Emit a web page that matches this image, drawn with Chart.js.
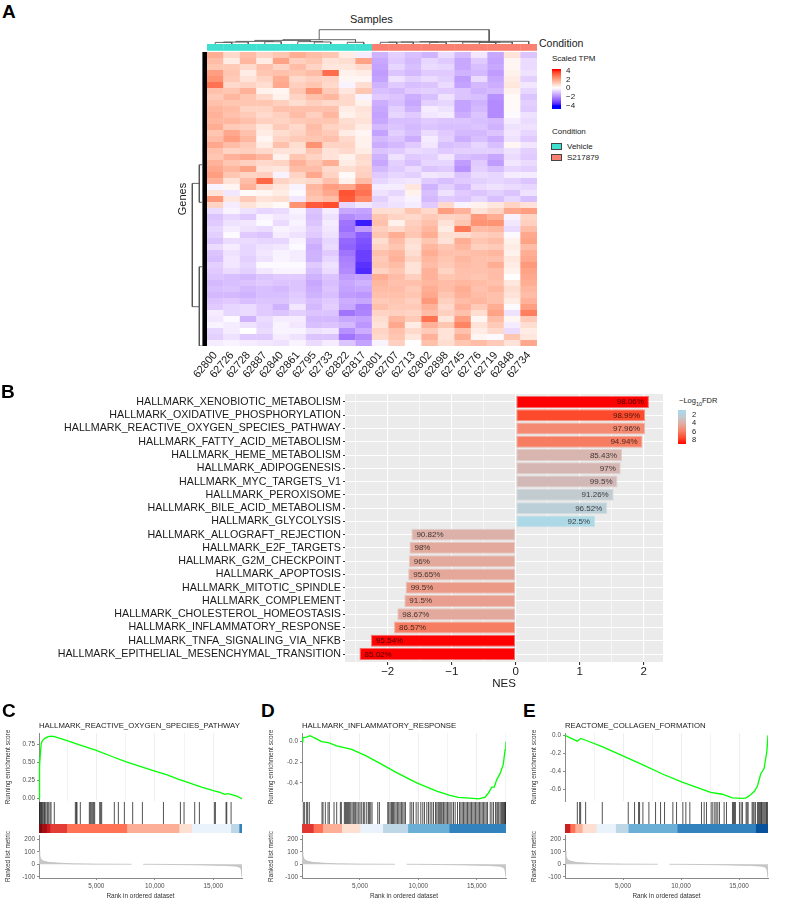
<!DOCTYPE html>
<html><head><meta charset="utf-8">
<style>
html,body{margin:0;padding:0;background:#fff;width:787px;height:906px;overflow:hidden}
#page{position:relative;width:787px;height:906px;overflow:hidden;font-family:"Liberation Sans",Arial,sans-serif}
canvas{position:absolute;display:block}
.t{position:absolute;white-space:nowrap;line-height:normal;color:#1a1a1a;opacity:0.999}
.sw{position:absolute;box-sizing:border-box;border:1px solid #444}
</style>
<script src="https://cdn.jsdelivr.net/npm/chart.js@4"></script>
</head><body><div id="page"></div>
<script>
/* ---------- data ---------- */
const sampleIds=['62800','62726','62728','62887','62840','62861','62795','62733','62822','62817','62801','62707','62713','62802','62898','62745','62776','62719','62848','62734'];
const conditionNames=['Vehicle','S217879'];
// scaled TPM x10, one row per horizontal band of the heat map, one value per sample
const heatRows=[
[17,8,14,9,12,17,14,12,4,-3,-13,-8,-11,-13,-6,-12,-4,-15,6,-10],
[14,4,15,4,19,10,12,6,7,19,-15,-9,-12,-7,-9,-15,-9,-16,2,-6],
[12,11,8,13,9,14,9,5,5,8,-16,-7,-11,-6,-7,-15,-11,-15,2,-6],
[20,12,4,12,13,12,14,29,3,4,-17,-10,-12,-9,-9,-13,-12,-17,3,-5],
[22,11,6,9,17,8,10,9,2,2,-16,-5,-8,-6,-8,-17,-6,-15,4,-8],
[28,8,9,7,18,10,12,8,-2,7,-13,-9,-11,-10,-6,-16,-12,-14,5,-4],
[13,12,16,3,2,12,22,11,5,12,-11,-12,-9,-8,-9,-10,-13,-12,3,-7],
[11,15,12,8,3,9,13,15,8,-2,-9,-10,-14,-11,-5,-10,-11,-19,1,-10],
[13,12,12,12,10,7,10,8,8,3,-14,-11,-15,-8,-7,-16,-13,-20,1,-8],
[15,14,9,9,13,13,13,13,4,6,-15,-8,-13,-3,-5,-16,-12,-20,1,-9],
[16,13,11,8,10,14,10,15,3,5,-16,-7,-9,-4,-3,-14,-10,-20,-1,-5],
[15,15,13,10,9,11,12,12,7,6,-15,-11,-11,-9,-10,-10,-11,-12,-3,-6],
[17,11,10,5,11,8,14,9,8,4,-12,-10,-12,-10,-11,-11,-10,-13,-5,-5],
[12,18,13,4,7,9,13,11,4,2,-16,-8,-11,-6,-9,-12,-12,-10,-4,-7],
[14,20,15,2,9,11,12,13,8,3,-12,-10,-14,-3,-8,-14,-11,-14,-5,-9],
[18,14,11,4,13,7,22,9,9,3,-14,-12,-9,-4,-11,-10,-7,-11,2,-4],
[13,9,10,8,6,6,12,6,8,4,-10,-9,-6,-7,-9,-8,-8,-8,-5,-8],
[12,16,18,15,3,12,9,6,3,8,-13,-5,-9,-8,-4,-11,-12,-15,-6,-9],
[16,12,10,8,9,16,12,17,4,7,-15,-8,-11,-7,-7,-17,-9,-17,-4,-6],
[18,15,19,6,5,14,14,8,7,9,-12,-9,-6,-10,-9,-19,-8,-11,-7,-8],
[20,12,9,10,-2,9,18,9,1,10,-9,-7,-8,-4,-5,-10,-6,-7,-3,-3],
[16,6,14,30,9,7,8,13,3,14,-7,-5,-4,-9,-11,-9,-8,-7,-8,-10],
[-2,2,16,8,5,-2,15,20,18,26,-3,-3,5,-13,-8,-12,-6,-5,-6,-7],
[6,-4,1,2,4,-1,14,18,33,28,-5,-7,3,-11,-5,-9,-10,-8,-10,-5],
[21,5,11,6,7,-4,12,14,32,24,-8,-4,-2,-12,-9,-10,-7,-11,-7,-11],
[9,-3,6,3,1,22,32,34,-7,-4,-6,-5,-3,-9,8,-2,3,5,9,6],
[-6,-2,-5,-7,-6,-2,-10,-3,-15,-16,7,7,12,8,20,16,6,9,18,20],
[-10,-7,-9,-2,-4,-3,-11,-5,-20,-18,12,9,8,11,9,10,21,17,-2,9],
[-9,-5,-4,-1,-6,-2,-10,-3,-24,-38,13,3,10,13,6,12,22,22,-4,10],
[-7,-3,-5,-6,-2,-3,-8,-4,-25,-17,10,8,11,15,4,27,14,15,-6,14],
[-8,-1,-9,-10,-3,-5,-9,-5,-22,-28,12,17,12,17,7,7,10,11,-1,18],
[-10,-6,-6,-7,-7,-2,-12,-7,-26,-30,7,14,7,12,6,17,12,14,3,19],
[-6,-3,-7,-5,-4,-1,-14,-6,-27,-31,9,12,6,15,12,15,10,11,4,14],
[-10,-5,-7,-4,-2,-3,-13,-9,-24,-33,13,15,7,17,13,13,14,15,3,17],
[-11,-4,-8,-5,-2,-3,-13,-7,-22,-33,11,16,9,15,12,15,13,13,5,18],
[-8,-4,-7,-1,-1,-1,-9,-5,-21,-35,12,14,6,14,11,14,13,17,4,21],
[-9,-6,-8,-4,-2,-2,-11,-6,-20,-36,9,12,6,16,9,13,13,14,3,19],
[-10,-11,-12,-10,-9,-9,-13,-10,-17,-16,17,14,10,16,12,13,12,14,0,18],
[-12,-11,-10,-9,-10,-10,-15,-11,-15,-13,15,13,13,15,14,15,14,13,5,17],
[-11,-10,-12,-11,-12,-10,-14,-10,-16,-15,14,14,11,17,14,17,13,15,7,15],
[-12,-12,-13,-11,-11,-9,-13,-11,-17,-18,13,13,12,18,12,16,14,13,6,14],
[-10,-9,-11,-10,-10,-8,-11,-9,-14,-15,11,12,10,21,10,14,15,13,4,16],
[-9,-7,-6,-9,-13,-4,-12,-8,-15,-22,13,11,11,16,8,16,11,17,-1,20],
[-3,-7,-6,-9,-10,-8,-10,-10,-24,-21,9,10,9,14,10,13,7,19,-5,26],
[-4,-1,-13,-6,-3,-3,-12,-12,-15,-16,7,15,11,28,5,20,2,14,2,11],
[-2,-3,-5,-7,-2,-4,-11,-10,-12,-18,6,18,4,16,12,25,6,11,-3,7],
[-7,-3,0,-6,-2,-2,-5,-4,-19,-14,9,13,8,11,6,13,4,8,-6,4],
[-8,-5,-9,-9,-3,-5,-10,-10,-24,-20,8,12,5,16,6,17,2,-1,12,5],
[-3,-2,-3,-4,-5,-2,-6,-3,-10,-16,-2,10,0,13,7,12,14,11,6,18]
];
// dendrogram brackets: [low position, high position, merge height, low child height, high child height]
const sampleTree=[[0.5,1.5,1.6,0,0],[1,2.5,1.9,1.6,0],[3.5,4.5,2.3,0,0],[1.75,4,2.6,1.9,2.3],[6.5,7.5,2,0,0],[5.5,7,2.4,0,2],[2.9,6.25,3.6,2.6,2.4],[8.5,9.5,1.7,0,0],[4.6,9,4.3,3.6,1.7],
[10.5,11.5,1.7,0,0],[11,12.5,1.9,1.7,0],[13.5,14.5,1.7,0,0],[11.75,14,2,1.9,1.7],[16.5,17.5,1.6,0,0],[17,18.5,1.8,1.6,0],[15.5,17.75,2,0,1.8],[12.9,16.6,2.3,2,2],[14.75,19.5,2.7,2.3,0],[6.8,17.1,14.3,4.3,2.7]];
const geneTree=[[21.9,42.45,14.7,7.7,7.7],[18.8,25.05,7.7,5,5],[35.8,49,7.7,5,5]];

const pathways=['HALLMARK_XENOBIOTIC_METABOLISM','HALLMARK_OXIDATIVE_PHOSPHORYLATION','HALLMARK_REACTIVE_OXYGEN_SPECIES_PATHWAY','HALLMARK_FATTY_ACID_METABOLISM','HALLMARK_HEME_METABOLISM','HALLMARK_ADIPOGENESIS','HALLMARK_MYC_TARGETS_V1','HALLMARK_PEROXISOME','HALLMARK_BILE_ACID_METABOLISM','HALLMARK_GLYCOLYSIS','HALLMARK_ALLOGRAFT_REJECTION','HALLMARK_E2F_TARGETS','HALLMARK_G2M_CHECKPOINT','HALLMARK_APOPTOSIS','HALLMARK_MITOTIC_SPINDLE','HALLMARK_COMPLEMENT','HALLMARK_CHOLESTEROL_HOMEOSTASIS','HALLMARK_INFLAMMATORY_RESPONSE','HALLMARK_TNFA_SIGNALING_VIA_NFKB','HALLMARK_EPITHELIAL_MESENCHYMAL_TRANSITION'];
const nesValues=[2.08,2.02,2.02,1.98,1.66,1.64,1.59,1.53,1.43,1.24,-1.63,-1.66,-1.67,-1.68,-1.72,-1.74,-1.85,-1.9,-2.26,-2.44];
const fdrValues=[9,7.5,5.5,6,3.6,3.5,3.3,2.4,2,1.2,3.8,4.2,4.2,4.3,4.8,4.6,4.2,6,9,9];
const percentLabels=['98.06%','98.99%','97.96%','94.94%','85.43%','97%','99.5%','91.26%','96.52%','92.5%','90.82%','98%','96%','95.65%','99.5%','91.5%','98.67%','86.57%','95.54%','85.02%'];

const rosCurve=[[103,0],[130,0.15],[170,0.45],[230,0.65],[300,0.76],[400,0.8],[600,0.83],[900,0.855],[1200,0.86],[1500,0.85],[2500,0.8],[3500,0.745],[5000,0.665],[6500,0.57],[7500,0.51],[9000,0.43],[10000,0.38],[11000,0.33],[12000,0.27],[13000,0.215],[14000,0.16],[15000,0.11],[15500,0.09],[16000,0.06],[16200,0.07],[16500,0.06],[17000,0.035],[17453,0]];
const infCurve=[[30,0],[100,0.04],[430,0.045],[710,0.058],[1140,0.035],[1710,0],[2290,-0.01],[3000,-0.04],[4290,-0.075],[5570,-0.14],[6710,-0.21],[8140,-0.3],[9860,-0.4],[11570,-0.48],[12710,-0.52],[13430,-0.54],[14710,-0.55],[15140,-0.555],[15700,-0.54],[16000,-0.5],[16290,-0.44],[16510,-0.44],[16710,-0.37],[17000,-0.31],[17280,-0.22],[17430,-0.08],[17505,0]];
const colCurve=[[0,0],[630,-0.04],[1060,-0.065],[1350,-0.035],[1780,-0.055],[3200,-0.125],[4940,-0.225],[6670,-0.325],[8400,-0.43],[10100,-0.52],[11840,-0.6],[12560,-0.635],[13560,-0.655],[14430,-0.695],[15290,-0.7],[15630,-0.695],[16000,-0.66],[16350,-0.62],[16600,-0.56],[16870,-0.43],[17160,-0.37],[17400,-0.18],[17500,0]];
const rosHits=[130,160,215,275,330,390,470,560,615,700,815,900,1040,1130,1410,3210,3295,3350,3635,4405,4490,4575,4690,4775,4860,5290,5375,5460,6540,6885,7400,8110,8940,10740,12190,12500,13410,13810,15090,15180,16090,16150,16520];
const infHits=[143,257,429,515,658,1745,1830,2030,2259,2374,2774,3003,3318,3403,3661,3747,3832,3918,4004,4090,4204,4319,4433,4547,4633,4748,4891,5005,5148,5291,5405,5577,5720,5806,5920,6035,6521,6664,7379,7465,7579,7693,7779,7865,7979,8094,8208,8323,8437,8551,8666,8780,8895,9295,9438,9581,9810,9981,10210,10382,10525,10725,10868,11011,11154,11297,11469,11583,11697,11783,11869,11955,12041,12155,12269,12384,12498,12613,12727,12870,13013,13156,13356,13528,13642,13757,13871,13985,14100,14214,14328,14443,14557,14672,14786,14901,15015,15129,15244,15358,15473,15587,15701,15816,15930,16159,16302,16445,16617,16731,16817,16903,17017,17131,17217,17303,17389,17446,17475];
const colHits=[1062,1263,1349,1779,3214,5453,5998,6343,6429,6716,7232,7806,8237,8581,9299,9615,10160,10418,10763,11767,11997,12198,12599,12743,12915,13030,13173,13317,13719,13920,14436,14522,14608,14694,15039,15182,15297,15613,15699,15785,16129,16216,16302,16416,16589,16675,16761,16847,16933,16990,17077,17163,17249,17335,17392,17450];
const rosStripEnds=[330,760,1040,2470,7600,12070,13150,16490,17200,17453];
const rosStripColors=['#7F0A0F','#A50F15','#CB181D','#E33B36','#FF7256','#FCAE97','#FEE0D2','#EAF2FB','#BDD7E7','#3182BD'];
const infStripEnds=[1000,1800,3430,5000,6950,9095,12640,17511];
const infStripColors=['#E03530','#FF7256','#FCAE97','#FEE0D2','#EAF2FB','#BDD7E7','#6BAED6','#3182BD'];
const colStripEnds=[430,860,1490,2700,4360,5450,9670,16420,17500];
const colStripColors=['#CB2020','#FF7256','#FCAE97','#FEE0D2','#EAF2FB','#BDD7E7','#6BAED6','#3182BD','#08519C'];
const rosMetric=[[103,105],[160,70],[250,45],[400,30],[600,22],[1000,15],[2000,8],[3000,4],[5000,1.5],[7500,0.3],[8000,0],[8400,null],[9000,0],[10000,-0.5],[12000,-2],[14000,-5],[16000,-9],[17000,-15],[17300,-25],[17400,-45],[17453,-105]];
const infMetric=[[30,105],[90,70],[200,45],[350,30],[600,22],[1000,15],[2000,8],[3000,4],[5000,1.5],[7500,0.3],[8000,0],[8400,null],[9000,0],[10000,-0.5],[12000,-2],[14000,-5],[16000,-9],[17000,-15],[17300,-25],[17430,-45],[17511,-105]];
const colMetric=[[0,105],[70,70],[180,45],[330,30],[600,22],[1000,15],[2000,8],[3000,4],[5000,1.5],[7500,0.3],[8000,0],[8400,null],[9000,0],[10000,-0.5],[12000,-2],[14000,-5],[16000,-9],[17000,-15],[17300,-25],[17420,-45],[17500,-105]];

/* ---------- helpers ---------- */
const FONT='"Liberation Sans",Arial,sans-serif';
Chart.defaults.font.family=FONT;
Chart.defaults.animation=false;
Chart.defaults.responsive=false;
Chart.defaults.maintainAspectRatio=false;
Chart.defaults.devicePixelRatio=1;
Chart.defaults.plugins.legend.display=false;
Chart.defaults.plugins.tooltip.enabled=false;
const page=document.getElementById('page');
function mk(l,t,w,h,cfg){
  const c=document.createElement('canvas');c.width=w;c.height=h;
  c.style.left=l+'px';c.style.top=t+'px';c.style.width=w+'px';c.style.height=h+'px';
  page.appendChild(c);
  cfg.options=cfg.options||{};
  cfg.options.layout=Object.assign({autoPadding:false,padding:0},cfg.options.layout||{});
  return new Chart(c,cfg);
}
function fit(size){return s=>{if(s.isHorizontal())s.height=size;else s.width=size;s.paddingLeft=s.paddingRight=s.paddingTop=s.paddingBottom=0;};}
function only(list){return s=>{s.ticks=list.map(v=>({value:v}));};}
function text(str,x,base,size,opt){
  opt=opt||{};
  const d=document.createElement('div');d.className='t';d.innerHTML=str;
  d.style.fontSize=size+'px';
  d.style.left=x+'px';d.style.top=(base-size*0.905)+'px';
  if(opt.weight)d.style.fontWeight=opt.weight;
  if(opt.color)d.style.color=opt.color;
  if(opt.rot){d.style.transform='translate(-50%,0) rotate(-90deg)';}
  page.appendChild(d);return d;
}
// colour ramp of the heat map: blue - white - red, mixed in Lab
function toLab(rgb){
  let c=rgb.map(v=>{v/=255;return v>0.04045?Math.pow((v+0.055)/1.055,2.4):v/12.92;});
  let X=(0.4124*c[0]+0.3576*c[1]+0.1805*c[2])/0.95047,Y=0.2126*c[0]+0.7152*c[1]+0.0722*c[2],Z=(0.0193*c[0]+0.1192*c[1]+0.9505*c[2])/1.08883;
  const f=t=>t>0.008856?Math.cbrt(t):7.787*t+16/116;
  return [116*f(Y)-16,500*(f(X)-f(Y)),200*(f(Y)-f(Z))];
}
function fromLab(L){
  const y=(L[0]+16)/116,x=L[1]/500+y,z=y-L[2]/200;
  const g=t=>t*t*t>0.008856?t*t*t:(t-16/116)/7.787;
  const X=g(x)*0.95047,Y=g(y),Z=g(z)*1.08883;
  const r=[3.2406*X-1.5372*Y-0.4986*Z,-0.9689*X+1.8758*Y+0.0415*Z,0.0557*X-0.204*Y+1.057*Z];
  return 'rgb('+r.map(v=>{v=Math.max(0,Math.min(1,v));v=v>0.0031308?1.055*Math.pow(v,1/2.4)-0.055:12.92*v;return Math.round(v*255);}).join(',')+')';
}
const labW=toLab([255,255,255]),labR=toLab([255,0,0]),labB=toLab([0,0,255]);
function heatColor(v){const t=Math.min(1,Math.abs(v)/4),e=v>=0?labR:labB;return fromLab(labW.map((w,i)=>w+(e[i]-w)*t));}
// colour ramp of the bar chart: -log10 FDR
const fdrStops=[[1.2,[173,216,230]],[2,[187,207,216]],[2.4,[194,203,208]],[3.3,[210,185,183]],[3.6,[216,181,175]],[4.2,[226,169,156]],[4.8,[235,154,136]],[5.5,[244,138,114]],[6,[246,124,98]],[7.5,[254,74,44]],[9,[255,0,0]]];
function fdrColor(v){
  let a=fdrStops[0],b=fdrStops[fdrStops.length-1];
  if(v<=a[0])return 'rgb('+a[1].join(',')+')';
  for(let i=1;i<fdrStops.length;i++){if(v<=fdrStops[i][0]){a=fdrStops[i-1];b=fdrStops[i];break;}}
  const t=(v-a[0])/(b[0]-a[0]||1);
  return 'rgb('+a[1].map((c,i)=>Math.round(c+(b[1][i]-c)*t)).join(',')+')';
}
function treePoints(tree,vertical){
  const pts=[];
  tree.forEach(b=>{
    const seq=[[b[0],b[3]],[b[0],b[2]],[b[1],b[2]],[b[1],b[4]]];
    seq.forEach(p=>pts.push(vertical?{x:p[1],y:p[0]}:{x:p[0],y:p[1]}));
    pts.push({x:NaN,y:NaN});
  });
  return pts;
}

/* ---------- A: heat map ---------- */
const UNIT_TOP=-1.3333;
const heatDatasets=heatRows.map((row,r)=>({
  data:row.map(()=>[r,r+1]),
  backgroundColor:row.map(v=>heatColor(v/10)),
  barPercentage:1.02,categoryPercentage:1,grouped:false,borderWidth:0
}));
heatDatasets.push({
  data:sampleIds.map(()=>[UNIT_TOP,-0.2]),
  backgroundColor:sampleIds.map((s,i)=>i<10?'#40E0D0':'#FA8072'),
  barPercentage:1.02,categoryPercentage:1,grouped:false,borderWidth:0
});
mk(167,44,370,342,{type:'bar',data:{labels:sampleIds,datasets:heatDatasets},options:{
  layout:{padding:{left:40}},
  scales:{
    x:{afterFit:fit(40),grid:{display:false},border:{display:false},
       ticks:{autoSkip:false,minRotation:50,maxRotation:50,padding:-5,color:'#1a1a1a',font:{size:11}}},
    y:{display:false,reverse:true,min:UNIT_TOP,max:heatRows.length}
  }}});
// sample dendrogram
mk(207,25,330,19,{type:'scatter',data:{datasets:[{data:treePoints(sampleTree,false),showLine:true,spanGaps:false,pointRadius:0,borderColor:'#555',borderWidth:0.9,clip:false}]},
  options:{scales:{x:{display:false,type:'linear',min:0,max:20},y:{display:false,min:0,max:19}}}});
// gene dendrogram and leaf strip
mk(190,52,17,294,{type:'scatter',data:{datasets:[
  {data:treePoints(geneTree,true),showLine:true,spanGaps:false,pointRadius:0,borderColor:'#555',borderWidth:0.9,clip:false},
  {data:[{x:2.3,y:0},{x:2.3,y:heatRows.length}],showLine:true,pointRadius:0,borderColor:'#000',borderWidth:4.6,borderCapStyle:'butt'}
]},options:{scales:{x:{display:false,type:'linear',min:0,max:17,reverse:true},y:{display:false,reverse:true,min:0,max:heatRows.length}}}});
// scaled TPM colour bar
const tpmLevels=[];for(let v=-4.7;v<4.35;v+=0.1)tpmLevels.push(v);
mk(552,66,24,46,{type:'bar',data:{labels:['TPM'],datasets:tpmLevels.map(l=>({data:[[l-0.06,l+0.06]],backgroundColor:heatColor(l),grouped:false,barPercentage:1,categoryPercentage:1,borderWidth:0}))},
  options:{layout:{padding:{top:3,bottom:3}},scales:{x:{display:false},y:{position:'right',min:-4.67,max:4.34,afterFit:fit(15),afterBuildTicks:only([4,2,0,-2,-4]),
    grid:{drawOnChartArea:false,tickLength:0},border:{display:false},
    ticks:{autoSkip:false,padding:5,color:'#1a1a1a',font:{size:8},callback:v=>v<0?'\u2212'+Math.abs(v):''+v}}}}});

/* ---------- B: bars ---------- */
const panelBg={id:'panelBg',beforeDraw(c){const a=c.chartArea,x=c.ctx;x.save();x.fillStyle='#EBEBEB';x.fillRect(a.left,a.top,a.width,a.height);x.restore();}};
const barLabels={id:'barLabels',afterDatasetsDraw(c){
  const x=c.ctx,m=c.getDatasetMeta(0);x.save();x.font='8px '+FONT;x.fillStyle='rgba(0,0,0,0.72)';x.textBaseline='middle';
  m.data.forEach((b,i)=>{const pos=nesValues[i]>=0;x.textAlign=pos?'right':'left';x.fillText(percentLabels[i],b.x+(pos?-5:5),b.y+0.3);});
  x.restore();}};
mk(0,394,663,298,{type:'bar',plugins:[panelBg,barLabels],data:{datasets:[{
    data:nesValues.map((v,i)=>({x:v,y:i+1})),
    backgroundColor:fdrValues.map(fdrColor),
    borderColor:fdrValues.map(v=>fdrColor(v).replace('rgb','rgba').replace(')',',0.55)')),
    borderWidth:1,borderSkipped:false,barPercentage:0.9,categoryPercentage:1}]},
  options:{indexAxis:'y',scales:{
    x:{type:'linear',min:-2.667,max:2.3,afterFit:fit(30),
       afterBuildTicks:only([-2.5,-2,-1.5,-1,-0.5,0,0.5,1,1.5,2]),
       border:{display:false},
       grid:{color:'#fff',lineWidth:c=>Number.isInteger(c.tick.value)?1.1:0.6,tickLength:3,
             tickColor:c=>Number.isInteger(c.tick.value)?'#333':'rgba(0,0,0,0)'},
       ticks:{padding:0,color:'#1a1a1a',font:{size:11.5},maxRotation:0,autoSkip:false,
              callback:v=>Number.isInteger(v)?(v<0?'\u2212'+Math.abs(v):''+v):''},
       title:{display:true,text:'NES',color:'#1a1a1a',font:{size:11.5},padding:{top:0,bottom:1}}},
    y:{type:'linear',offset:false,reverse:true,min:0.4,max:20.6,afterFit:fit(345),
       afterBuildTicks:only(pathways.map((p,i)=>i+1)),
       border:{display:false},
       grid:{offset:false,color:'#fff',lineWidth:1,tickLength:2,tickColor:'#333'},
       ticks:{padding:2,color:'#1a1a1a',font:{size:10.7},autoSkip:false,callback:v=>pathways[v-1]||''}}
  }}});
// FDR colour bar
const fdrLevels=[];for(let v=0.8;v<=9;v+=0.1)fdrLevels.push(v);
mk(678,407,22,40,{type:'bar',data:{labels:['FDR'],datasets:fdrLevels.map(l=>({data:[[l-0.06,l+0.06]],backgroundColor:fdrColor(l),grouped:false,barPercentage:1,categoryPercentage:1,borderWidth:0}))},
  options:{layout:{padding:{top:3,bottom:3}},scales:{x:{display:false},y:{position:'right',reverse:true,min:0.8,max:9,afterFit:fit(14),afterBuildTicks:only([2,4,6,8]),
    grid:{drawOnChartArea:false,tickLength:0},border:{display:false},
    ticks:{autoSkip:false,padding:6,color:'#1a1a1a',font:{size:7.5}}}}}});

/* ---------- C, D, E: enrichment plots ---------- */
const gseaPanels=[
 {left:39,right:242,xmin:103,xmax:17453,ymin:-0.032,ymax:0.904,yticks:[0,0.25,0.5,0.75],dec:2,curve:rosCurve,hits:rosHits,ends:rosStripEnds,colors:rosStripColors,metric:rosMetric},
 {left:302,right:506,xmin:30,xmax:17511,ymin:-0.575,ymax:0.084,yticks:[0,-0.2,-0.4],dec:1,curve:infCurve,hits:infHits,ends:infStripEnds,colors:infStripColors,metric:infMetric},
 {left:565,right:768,xmin:0,xmax:17500,ymin:-0.73,ymax:0.0256,yticks:[0,-0.2,-0.4,-0.6],dec:1,curve:colCurve,hits:colHits,ends:colStripEnds,colors:colStripColors,metric:colMetric}
];
const axisGrey='#8a8a8a',tickText='#4d4d4d',smallFont=6.4;
gseaPanels.forEach(p=>{
  const yw=35,L=p.left-yw,W=p.right-p.left;
  const xBase={type:'linear',min:p.xmin,max:p.xmax};
  const yTitle=t=>({display:true,text:t,color:'#333',font:{size:smallFont},padding:{top:0,bottom:0}});
  mk(L,723,W+yw,88,{type:'scatter',data:{datasets:[{data:p.curve.map(q=>({x:q[0],y:q[1]})),showLine:true,pointRadius:0,borderColor:'#00FF00',borderWidth:1.3,clip:false}]},
    options:{layout:{padding:{top:10,bottom:10}},scales:{
      x:Object.assign({},xBase,{afterFit:fit(0),afterBuildTicks:only([2500,5000,7500,10000,12500,15000,17500].filter(v=>v<=p.xmax)),
        border:{display:false},grid:{color:'#EEEEEE',lineWidth:c=>c.tick.value%5000===0?1:0.7,drawTicks:false},ticks:{display:false}}),
      y:{min:p.ymin,max:p.ymax,afterFit:fit(yw),afterBuildTicks:only(p.yticks),
        border:{color:axisGrey,width:1},grid:{drawOnChartArea:false,tickLength:2,color:axisGrey},
        ticks:{padding:2,color:tickText,font:{size:smallFont},callback:v=>v.toFixed(p.dec)},title:yTitle('Running enrichment score')}
    }}});
  mk(p.left,802,W,22,{type:'scatter',data:{datasets:[{data:p.hits.map(h=>({x:h,y:0.5})),pointStyle:'line',pointRotation:90,pointRadius:11,pointBorderColor:'rgba(0,0,0,0.68)',pointBorderWidth:1,clip:false}]},
    options:{scales:{x:Object.assign({},xBase,{display:false}),y:{display:false,min:0,max:1}}}});
  mk(p.left,824,W,9,{type:'bar',data:{labels:['strip'],datasets:p.ends.map((e,i)=>({data:[[i?p.ends[i-1]:p.xmin,e]],backgroundColor:p.colors[i],grouped:false,barPercentage:1,categoryPercentage:1,borderWidth:0}))},
    options:{indexAxis:'y',scales:{x:Object.assign({},xBase,{display:false}),y:{display:false}}}});
  mk(L,825,W+yw+10,78,{type:'line',data:{datasets:[{data:p.metric.map(q=>({x:q[0],y:q[1]})),spanGaps:false,pointRadius:0,borderColor:'#BDBDBD',borderWidth:0.8,backgroundColor:'#C8C8C8',fill:'origin'}]},
    options:{layout:{padding:{right:10,top:10}},scales:{
      x:Object.assign({},xBase,{afterFit:fit(25),afterBuildTicks:only([5000,10000,15000]),
        border:{color:axisGrey,width:1},grid:{drawOnChartArea:false,tickLength:2,color:axisGrey},
        ticks:{padding:2,color:tickText,maxRotation:0,font:{size:smallFont},callback:v=>v.toLocaleString('en-US')},
        title:{display:true,text:'Rank in ordered dataset',color:'#333',font:{size:smallFont},padding:{top:0,bottom:3}}}),
      y:{min:-110,max:235,afterFit:fit(yw),afterBuildTicks:only([200,100,0,-100]),
        border:{color:axisGrey,width:1},grid:{drawOnChartArea:false,tickLength:2,color:axisGrey},
        ticks:{padding:2,color:tickText,font:{size:smallFont}},title:yTitle('Ranked list metric')}
    }}});
});

/* ---------- text that sits outside the axes ---------- */
text('A',2,18,19,{weight:'bold',color:'#000'});
text('B',1,398,19,{weight:'bold',color:'#000'});
text('C',2,717,19,{weight:'bold',color:'#000'});
text('D',261,717,19,{weight:'bold',color:'#000'});
text('E',523,717,19,{weight:'bold',color:'#000'});
text('Samples',350,23,11);
text('Condition',539,47,10.5);
text('Genes',182,203,11,{rot:true});
text('Scaled TPM',552,61.5,8);
text('Condition',552,134,8);
[0,1].forEach(i=>{
  const s=document.createElement('div');s.className='sw';
  s.style.cssText='left:551px;top:'+(143+i*10.8)+'px;width:10.5px;height:7px;background:'+(i?'#FA8072':'#40E0D0');
  page.appendChild(s);
  text(conditionNames[i],567,149+i*10.8,8);
});
text('\u2212Log<sub style="font-size:5.5px;line-height:0">10</sub>FDR',679,403,7.5);
text('HALLMARK_REACTIVE_OXYGEN_SPECIES_PATHWAY',39,728,7.75);
text('HALLMARK_INFLAMMATORY_RESPONSE',302,728,7.75);
text('REACTOME_COLLAGEN_FORMATION',565,728,7.75);
</script></body></html>
